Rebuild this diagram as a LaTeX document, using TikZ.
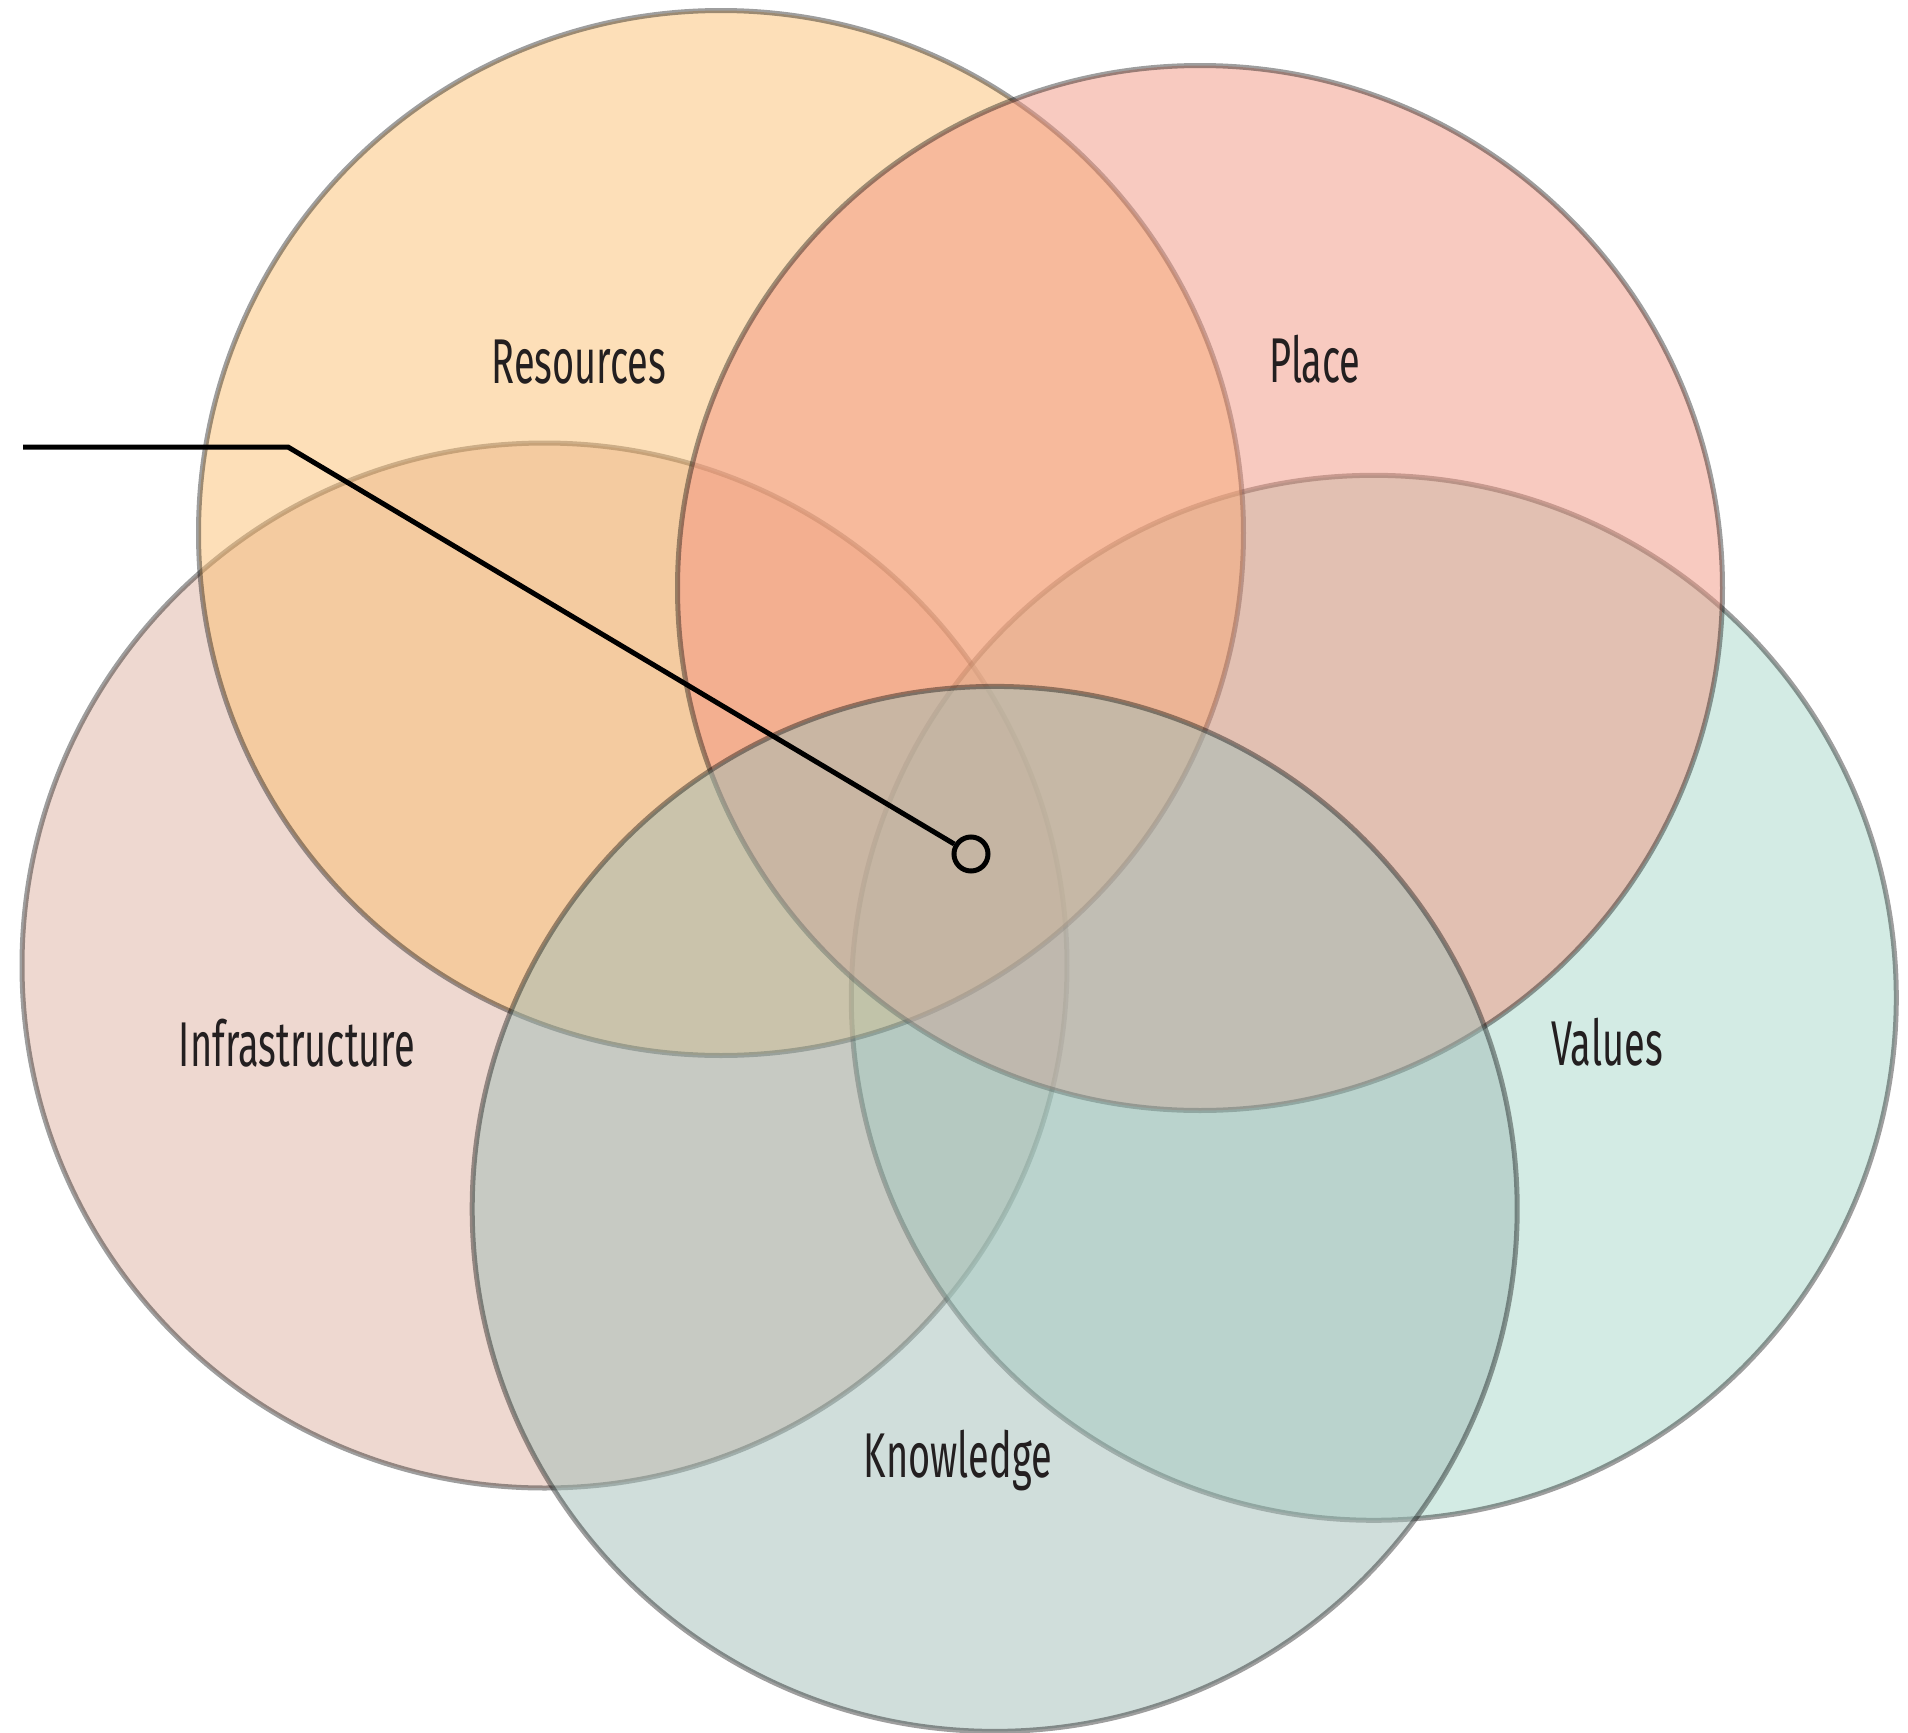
\documentclass[tikz,border=0pt]{standalone}
\usepackage{fontspec}
\setmainfont{Fira Sans}[FakeStretch=0.6]
\usepackage{xcolor}
\usepackage{tikz}
\definecolor{resourcescolor}{RGB}{251,191,113}
\definecolor{placecolor}{RGB}{241,149,129}
\definecolor{infracolor}{RGB}{221,177,161}
\definecolor{valuescolor}{RGB}{167,215,201}
\definecolor{knowledgecolor}{RGB}{161,189,183}
\definecolor{labelcolor}{HTML}{231F20}
\tikzset{
  vennring/.style={circle, draw=black, draw opacity=0.38, line width=0.5mm, fill opacity=0.5, minimum size=104.5mm, inner sep=0pt},
  venntext/.style={anchor=base, text=labelcolor, font=\fontsize{18}{21}\selectfont},
}

\begin{document}
\begin{tikzpicture}[x=0.1mm, y=-0.1mm]%
\useasboundingbox (0,0) rectangle (1908,1733);%
% the five sets
\node[vennring, fill=infracolor] (infra) at (544.5, 965.5) {};%
\node[vennring, fill=valuescolor] (values) at (1373.8, 997.8) {};%
\node[vennring, fill=resourcescolor] (resources) at (721, 533) {};%
\node[vennring, fill=placecolor] (place) at (1200, 588) {};%
\node[vennring, fill=knowledgecolor] (knowledge) at (994.7, 1208.9) {};%
% labels
\node[venntext] (resourceslabel) at (579, 383) {Resources};%
\node[venntext] (placelabel) at (1315, 382) {Place};%
\node[venntext] (infralabel) at (297, 1066) {Infrastructure};%
\node[venntext] (valueslabel) at (1607, 1065) {Values};%
\node[venntext] (knowledgelabel) at (958, 1477) {Knowledge};%
% callout
\coordinate (calloutstart) at (23, 447);%
\coordinate (calloutbend) at (288, 447);%
\node[circle, draw=black, line width=0.5mm, minimum size=3.4mm, inner sep=0pt] (hub) at (971, 854) {};%
\draw[line width=0.5mm] (calloutstart) -- (calloutbend) -- (hub);%
\end{tikzpicture}
\end{document}
